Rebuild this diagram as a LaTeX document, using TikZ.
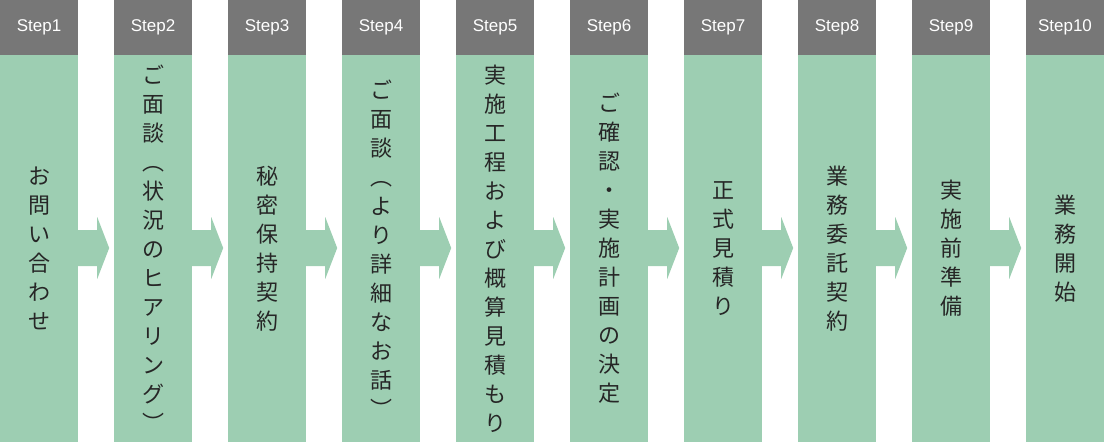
\documentclass[tikz,border=0pt]{standalone}
\usepackage{fontspec}
\setmainfont{Liberation Sans}
\newfontfamily\jpfont{Noto Sans CJK JP}
\usetikzlibrary{calc}
\usetikzlibrary{positioning}
\definecolor{stepgray}{RGB}{119, 119, 119}
\definecolor{mint}{RGB}{157, 206, 178}

\tikzset{
  head/.style={fill=stepgray, text=white, minimum width=78pt, minimum height=55pt,
               inner sep=0pt, font=\fontsize{17}{17}\selectfont},
  body/.style={fill=mint, minimum width=78pt, minimum height=387pt, inner sep=0pt},
  label/.style={align=center, text=black!85, font=\jpfont\fontsize{22}{29}\selectfont},
  flow/.style={fill=mint},
}

\begin{document}
\begin{tikzpicture}[x=1pt, y=-1pt]
            \useasboundingbox (0,0) rectangle (1104,442);
            % Columns
            \foreach \i/\txt in {1/お\\問\\い\\合\\わ\\せ,
                                 2/ご\\面\\談\\︵\\状\\況\\の\\ヒ\\ア\\リ\\ン\\グ\\︶,
                                 3/秘\\密\\保\\持\\契\\約,
                                 4/ご\\面\\談\\︵\\よ\\り\\詳\\細\\な\\お\\話\\︶,
                                 5/実\\施\\工\\程\\お\\よ\\び\\概\\算\\見\\積\\も\\り,
                                 6/ご\\確\\認\\・\\実\\施\\計\\画\\の\\決\\定,
                                 7/正\\式\\見\\積\\り,
                                 8/業\\務\\委\\託\\契\\約,
                                 9/実\\施\\前\\準\\備,
                                 10/業\\務\\開\\始} {
              \node[head] (head\i) at ({39+114*(\i-1)}, 27.5) {Step\i};
              \node[body, below=0pt of head\i] (col\i) {};
              \node[label] (text\i) at ($(col\i.center)+(0,-0.5)$) {\txt};
            }
            % Arrows
            \foreach \i in {1,...,9} {
              \fill[flow] ($(col\i.east |- 0,230)$) -- ++(19,0) -- ++(0,-13) -- ++(12,31)
                          -- ++(-12,31) -- ++(0,-13) -- ++(-19,0) -- cycle;
            }
\end{tikzpicture}
\end{document}
